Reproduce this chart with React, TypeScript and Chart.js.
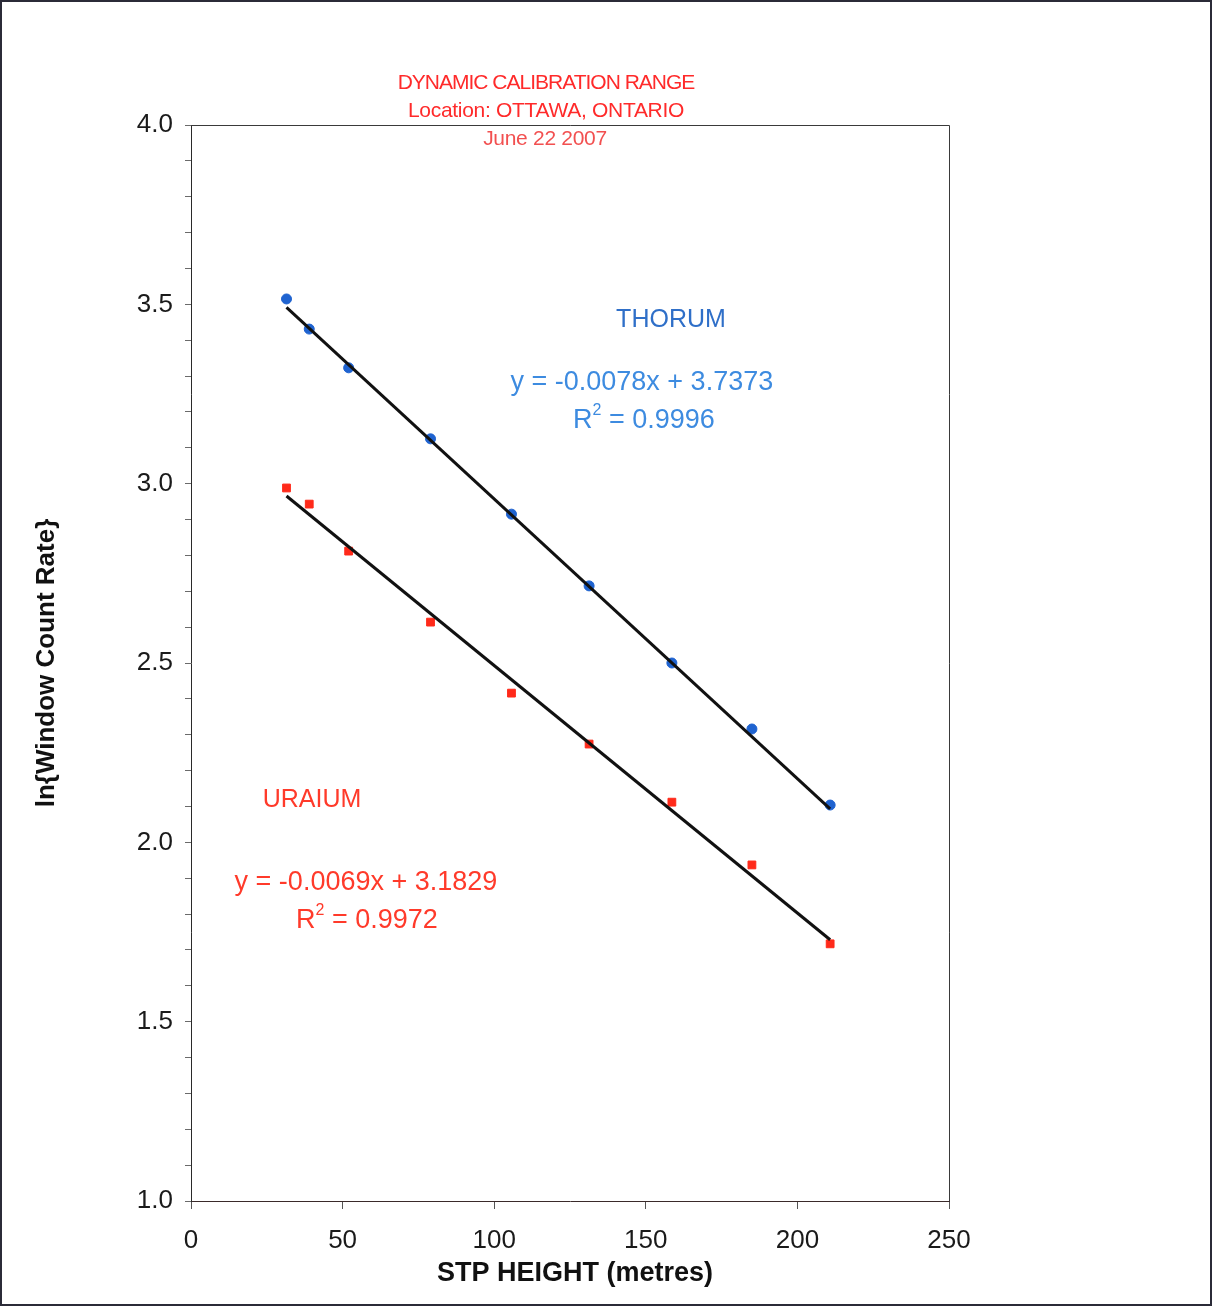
import React, { useEffect, useRef } from "react";
import { Chart, registerables } from "chart.js";

Chart.register(...registerables);

// ---- data ----
const stpHeights = [31.5, 39, 52, 79, 105.7, 131.3, 158.6, 185, 210.8];
const thoriumLn = [3.515, 3.431, 3.323, 3.125, 2.915, 2.715, 2.5, 2.316, 2.104];
const uraniumLn = [2.988, 2.943, 2.812, 2.614, 2.416, 2.274, 2.112, 1.937, 1.717];
const thoriumFit = [-0.0078, 3.7373];
const uraniumFit = [-0.0069, 3.1829];
const thoriumR2 = "0.9996";
const uraniumR2 = "0.9972";
const titleLines = ["DYNAMIC CALIBRATION RANGE", "Location: OTTAWA, ONTARIO", "June 22 2007"];
const xAxisTitle = "STP HEIGHT (metres)";
const yAxisTitle = "ln{Window Count Rate}";
const xRange = [0, 250, 50];
const yRange = [1.0, 4.0, 0.1];

const FONT = "'Liberation Sans', Arial, sans-serif";

const fitLine = (fit: number[]) => {
  const x0 = stpHeights[0];
  const x1 = stpHeights[stpHeights.length - 1];
  return [
    { x: x0, y: fit[0] * x0 + fit[1] },
    { x: x1, y: fit[0] * x1 + fit[1] },
  ];
};

const eqText = (fit: number[]) =>
  `y = ${fit[0].toFixed(4)}x + ${fit[1].toFixed(4)}`;

function drawR2(ctx: CanvasRenderingContext2D, cx: number, cy: number, val: string, color: string) {
  ctx.save();
  ctx.fillStyle = color;
  ctx.textBaseline = "middle";
  ctx.textAlign = "left";
  const big = `27px ${FONT}`;
  const small = `16px ${FONT}`;
  ctx.font = big;
  const wR = ctx.measureText("R").width;
  const rest = " = " + val;
  const wRest = ctx.measureText(rest).width;
  ctx.font = small;
  const w2 = ctx.measureText("2").width;
  const total = wR + w2 + wRest;
  let x = cx - total / 2;
  ctx.font = big;
  ctx.fillText("R", x, cy);
  x += wR;
  ctx.font = small;
  ctx.fillText("2", x, cy - 10);
  x += w2;
  ctx.font = big;
  ctx.fillText(rest, x, cy);
  ctx.restore();
}

const decorPlugin = {
  id: "decor",
  beforeDraw(chart: any) {
    const ctx = chart.ctx;
    ctx.save();
    ctx.fillStyle = "#ffffff";
    ctx.fillRect(0, 0, chart.width, chart.height);
    ctx.restore();
  },
  afterDraw(chart: any) {
    const ctx: CanvasRenderingContext2D = chart.ctx;
    const { left, top, right, bottom } = chart.chartArea;
    const xs = chart.scales.x;
    const ys = chart.scales.y;
    ctx.save();
    // plot frame
    ctx.strokeStyle = "#3a3a3a";
    ctx.lineWidth = 1;
    ctx.beginPath();
    ctx.moveTo(left, top + 0.5);
    ctx.lineTo(right + 0.5, top + 0.5);
    ctx.lineTo(right + 0.5, bottom);
    ctx.stroke();
    // outer frame
    ctx.strokeStyle = "#2b2b38";
    ctx.lineWidth = 2;
    ctx.strokeRect(1, 1, chart.width - 2, chart.height - 3);

    // title lines
    ctx.textAlign = "center";
    ctx.textBaseline = "middle";
    (ctx as any).letterSpacing = "-1px";
    ctx.font = `21px ${FONT}`;
    ctx.fillStyle = "#ff2a2a";
    ctx.fillText(titleLines[0], 546, 83);
    (ctx as any).letterSpacing = "-0.3px";
    ctx.fillText(titleLines[1], 546, 111);
    ctx.fillStyle = "#f25050";
    ctx.fillText(titleLines[2], 545, 139);
    (ctx as any).letterSpacing = "0px";

    // axis titles
    ctx.fillStyle = "#111111";
    ctx.font = `bold 27px ${FONT}`;
    ctx.fillText(xAxisTitle, 575, 1274);
    ctx.font = `bold 26px ${FONT}`;
    ctx.save();
    ctx.translate(47, (top + bottom) / 2);
    ctx.rotate(-Math.PI / 2);
    ctx.fillText(yAxisTitle, 0, 0);
    ctx.restore();

    // series annotations
    const thorBlue = "#2f6fc8";
    const thorEq = "#3d8be0";
    const uranRed = "#ff3a2a";
    ctx.font = `25px ${FONT}`;
    ctx.fillStyle = thorBlue;
    ctx.fillText("THORUM", xs.getPixelForValue(158.3), ys.getPixelForValue(3.456));
    ctx.font = `27px ${FONT}`;
    ctx.fillStyle = thorEq;
    ctx.fillText(eqText(thoriumFit), xs.getPixelForValue(148.7), ys.getPixelForValue(3.283));
    drawR2(ctx, xs.getPixelForValue(149.4), ys.getPixelForValue(3.175), thoriumR2, thorEq);

    ctx.font = `25px ${FONT}`;
    ctx.fillStyle = uranRed;
    ctx.fillText("URAIUM", xs.getPixelForValue(39.9), ys.getPixelForValue(2.118));
    ctx.font = `27px ${FONT}`;
    ctx.fillText(eqText(uraniumFit), xs.getPixelForValue(57.7), ys.getPixelForValue(1.889));
    drawR2(ctx, xs.getPixelForValue(58.0), ys.getPixelForValue(1.781), uraniumR2, uranRed);
    ctx.restore();
  },
};

export default function App() {
  const ref = useRef<HTMLCanvasElement>(null);
  useEffect(() => {
    if (!ref.current) return;
    const chart = new Chart(ref.current, {
      type: "scatter",
      data: {
        datasets: [
          {
            type: "line",
            label: "Thorium fit",
            data: fitLine(thoriumFit),
            borderColor: "#111111",
            borderWidth: 3,
            pointRadius: 0,
            fill: false,
            order: 0,
          },
          {
            type: "line",
            label: "Uranium fit",
            data: fitLine(uraniumFit),
            borderColor: "#111111",
            borderWidth: 3,
            pointRadius: 0,
            fill: false,
            order: 0,
          },
          {
            label: "THORUM",
            data: stpHeights.map((x, i) => ({ x, y: thoriumLn[i] })),
            backgroundColor: "#1f63d0",
            borderColor: "#1f63d0",
            pointStyle: "circle",
            pointRadius: 5,
            order: 1,
          },
          {
            label: "URAIUM",
            data: stpHeights.map((x, i) => ({ x, y: uraniumLn[i] })),
            backgroundColor: "#ff2a1a",
            borderColor: "#ff2a1a",
            pointStyle: "rect",
            pointRadius: 5.5,
            order: 1,
          },
        ],
      },
      options: {
        animation: false,
        responsive: false,
        maintainAspectRatio: false,
        layout: { padding: { left: 0, top: 125, right: 263, bottom: 0 } },
        plugins: { legend: { display: false }, tooltip: { enabled: false }, title: { display: false } },
        scales: {
          x: {
            type: "linear",
            min: xRange[0],
            max: xRange[1],
            afterFit: (s: any) => {
              s.height = 106;
            },
            ticks: {
              stepSize: xRange[2],
              color: "#1a1a1a",
              font: { family: FONT, size: 26 },
              padding: 16,
              maxRotation: 0,
            },
            grid: {
              drawOnChartArea: false,
              drawTicks: true,
              tickLength: 8,
              color: "#555555",
            },
            border: { display: true, color: "#3a2a2a", width: 1 },
            title: { display: false },
          },
          y: {
            type: "linear",
            min: yRange[0],
            max: yRange[1],
            afterFit: (s: any) => {
              s.width = 191;
            },
            ticks: {
              stepSize: yRange[2],
              autoSkip: false,
              color: "#1a1a1a",
              font: { family: FONT, size: 26 },
              padding: 12,
              callback: (v: any) => {
                const n = Math.round(Number(v) * 10);
                return n % 5 === 0 ? (n / 10).toFixed(1) : "";
              },
            },
            grid: {
              drawOnChartArea: false,
              drawTicks: true,
              tickLength: 6,
              color: "#6a6a6a",
            },
            border: { display: true, color: "#2a2a2a", width: 1 },
            title: { display: false },
          },
        },
      },
      plugins: [decorPlugin],
    } as any);
    return () => chart.destroy();
  }, []);
  return (
    <div style={{ position: "absolute", left: 0, top: 0, width: 1212, height: 1307 }}>
      <canvas ref={ref} width={1212} height={1307} style={{ width: 1212, height: 1307, display: "block" }} />
    </div>
  );
}
